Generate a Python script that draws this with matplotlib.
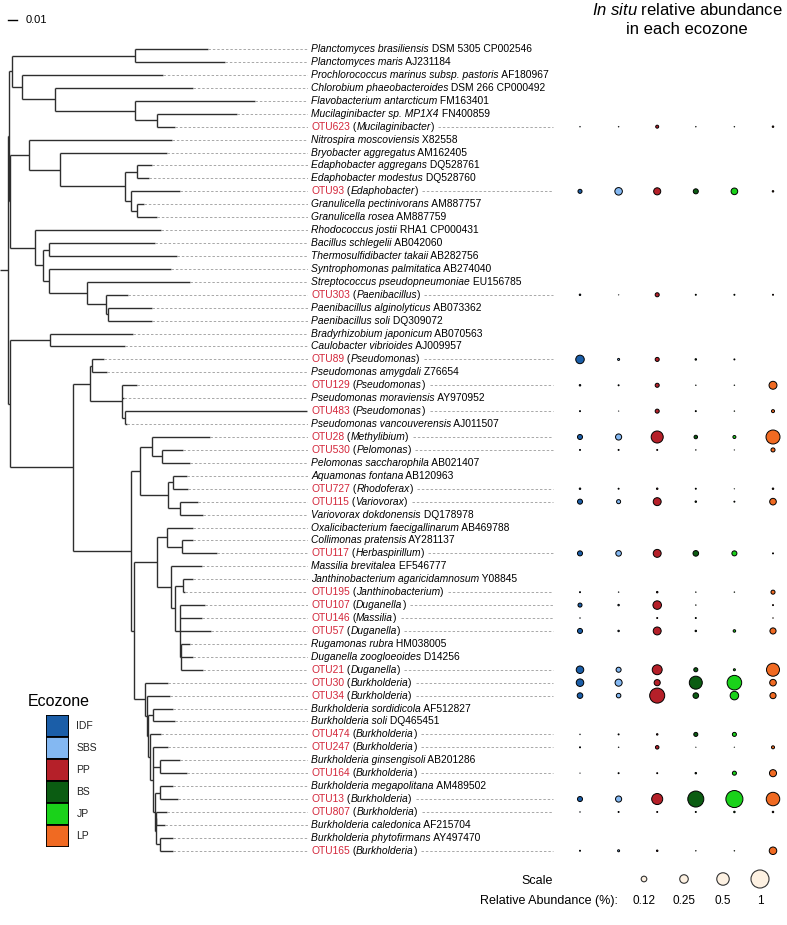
import matplotlib
matplotlib.use("Agg")
import matplotlib.pyplot as plt
import numpy as np

plt.rcParams['font.family'] = ['Liberation Sans', 'DejaVu Sans']
plt.rcParams['mathtext.fontset'] = 'custom'
plt.rcParams['mathtext.it'] = 'Liberation Sans:italic'
plt.rcParams['mathtext.rm'] = 'Liberation Sans'

# --- leaves, top to bottom: (italic/otu part, rest) ---
LEAVES = [
    ("Planctomyces brasiliensis", " DSM 5305 CP002546"),
    ("Planctomyces maris", " AJ231184"),
    ("Prochlorococcus marinus subsp. pastoris", " AF180967"),
    ("Chlorobium phaeobacteroides", " DSM 266 CP000492"),
    ("Flavobacterium antarcticum", " FM163401"),
    ("Mucilaginibacter sp. MP1X4", " FN400859"),
    ("OTU623", "Mucilaginibacter"),
    ("Nitrospira moscoviensis", " X82558"),
    ("Bryobacter aggregatus", " AM162405"),
    ("Edaphobacter aggregans", " DQ528761"),
    ("Edaphobacter modestus", " DQ528760"),
    ("OTU93", "Edaphobacter"),
    ("Granulicella pectinivorans", " AM887757"),
    ("Granulicella rosea", " AM887759"),
    ("Rhodococcus jostii", " RHA1 CP000431"),
    ("Bacillus schlegelii", " AB042060"),
    ("Thermosulfidibacter takaii", " AB282756"),
    ("Syntrophomonas palmitatica", " AB274040"),
    ("Streptococcus pseudopneumoniae", " EU156785"),
    ("OTU303", "Paenibacillus"),
    ("Paenibacillus alginolyticus", " AB073362"),
    ("Paenibacillus soli", " DQ309072"),
    ("Bradyrhizobium japonicum", " AB070563"),
    ("Caulobacter vibrioides", " AJ009957"),
    ("OTU89", "Pseudomonas"),
    ("Pseudomonas amygdali", " Z76654"),
    ("OTU129", "Pseudomonas"),
    ("Pseudomonas moraviensis", " AY970952"),
    ("OTU483", "Pseudomonas"),
    ("Pseudomonas vancouverensis", " AJ011507"),
    ("OTU28", "Methylibium"),
    ("OTU530", "Pelomonas"),
    ("Pelomonas saccharophila", " AB021407"),
    ("Aquamonas fontana", " AB120963"),
    ("OTU727", "Rhodoferax"),
    ("OTU115", "Variovorax"),
    ("Variovorax dokdonensis", " DQ178978"),
    ("Oxalicibacterium faecigallinarum", " AB469788"),
    ("Collimonas pratensis", " AY281137"),
    ("OTU117", "Herbaspirillum"),
    ("Massilia brevitalea", " EF546777"),
    ("Janthinobacterium agaricidamnosum", " Y08845"),
    ("OTU195", "Janthinobacterium"),
    ("OTU107", "Duganella"),
    ("OTU146", "Massilia"),
    ("OTU57", "Duganella"),
    ("Rugamonas rubra", " HM038005"),
    ("Duganella zoogloeoides", " D14256"),
    ("OTU21", "Duganella"),
    ("OTU30", "Burkholderia"),
    ("OTU34", "Burkholderia"),
    ("Burkholderia sordidicola", " AF512827"),
    ("Burkholderia soli", " DQ465451"),
    ("OTU474", "Burkholderia"),
    ("OTU247", "Burkholderia"),
    ("Burkholderia ginsengisoli", " AB201286"),
    ("OTU164", "Burkholderia"),
    ("Burkholderia megapolitana", " AM489502"),
    ("OTU13", "Burkholderia"),
    ("OTU807", "Burkholderia"),
    ("Burkholderia caledonica", " AF215704"),
    ("Burkholderia phytofirmans", " AY497470"),
    ("OTU165", "Burkholderia"),
]

# --- tree: internal node = [depth, children...], leaf = tip depth
# depths in units where 9 units = 0.01 substitutions
TREE = [8,
    [9,
        [12,
            [135, 208, 225],
            [22, 163,
                [55, 193,
                    [135, 255, [157, 237, 175]]]]],
        [10,
            [29, 172,
                [60, 167,
                    [125, [137, 152, 149],
                        [131, 180, [137, 144, 157]]]]],
            [35, 161,
                [43, [49, 155, 177],
                    [49, 171,
                        [87, 190, [106, 128, [108, 152, 152]]]]]]]],
    [10,
        [50, 133, 125],
        [73,
            [90, [92, 104, 107],
                [122, 137, 124, [125, 307, 127]]],
            [131,
                [140,
                    [152, 210, [162, 183, 190]],
                    [168, [173, 187, 188], [180, 198, 203]]],
                [134,
                    [157,
                        [167, 193, [182, 193, 217]],
                        [171, 202,
                            [175, [183, 193, 185],
                                [180, 205, 202, 211, [181, 190, 193, 203]]]]],
                    [145, 168,
                        [147, 170,
                            [148, [153, 173, 175],
                                [150, 161,
                                    [153, 168, [160, 180, 187],
                                        [155, [160, 173, 178],
                                            [156, [156, 167, 165], [160, 173, 173]]]]]]]]]]]]]
SCALE_UNITS = 9
SCALE_LABEL = "0.01"

ZONES = ["IDF", "SBS", "PP", "BS", "JP", "LP"]
ZONE_COLORS = ["#1b5ea8", "#84b8f2", "#b52029", "#0b5c12", "#1ad21a", "#f06a22"]

# in situ relative abundance (%) per OTU: IDF, SBS, PP, BS, JP, LP
ABUND = {
    "OTU623": [0.006, 0.006, 0.044, 0.006, 0.006, 0.017],
    "OTU93":  [0.07, 0.20, 0.18, 0.10, 0.16, 0.017],
    "OTU303": [0.017, 0.004, 0.07, 0.011, 0.011, 0.011],
    "OTU89":  [0.25, 0.025, 0.07, 0.017, 0.011, 0.0],
    "OTU129": [0.017, 0.011, 0.07, 0.006, 0.006, 0.22],
    "OTU483": [0.011, 0.003, 0.07, 0.011, 0.006, 0.044],
    "OTU28":  [0.10, 0.14, 0.47, 0.056, 0.044, 0.62],
    "OTU530": [0.011, 0.011, 0.011, 0.006, 0.003, 0.07],
    "OTU727": [0.017, 0.011, 0.017, 0.011, 0.003, 0.017],
    "OTU115": [0.10, 0.07, 0.22, 0.017, 0.011, 0.16],
    "OTU117": [0.10, 0.12, 0.22, 0.12, 0.10, 0.011],
    "OTU195": [0.011, 0.006, 0.017, 0.006, 0.006, 0.07],
    "OTU107": [0.07, 0.017, 0.25, 0.006, 0.0, 0.011],
    "OTU146": [0.006, 0.0, 0.011, 0.011, 0.0, 0.006],
    "OTU57":  [0.10, 0.017, 0.22, 0.017, 0.034, 0.14],
    "OTU21":  [0.20, 0.10, 0.33, 0.07, 0.025, 0.54],
    "OTU30":  [0.20, 0.18, 0.14, 0.54, 0.67, 0.16],
    "OTU34":  [0.12, 0.084, 0.71, 0.12, 0.25, 0.14],
    "OTU474": [0.006, 0.011, 0.017, 0.07, 0.07, 0.0],
    "OTU247": [0.011, 0.006, 0.056, 0.003, 0.003, 0.044],
    "OTU164": [0.003, 0.011, 0.011, 0.017, 0.07, 0.18],
    "OTU13":  [0.10, 0.14, 0.40, 0.80, 0.90, 0.58],
    "OTU807": [0.006, 0.011, 0.011, 0.011, 0.017, 0.017],
    "OTU165": [0.011, 0.025, 0.017, 0.006, 0.006, 0.20],
}
SCALE_VALUES = [0.12, 0.25, 0.5, 1]
SCALE_TEXT = ["0.12", "0.25", "0.5", "1"]

OTU_RED = "#d3263a"
TREE_COL = "#2e2e2e"
DASH_COL = "#a8a8a8"

# --- layout (pixels of the 787x925 output) ---
W, H = 787, 925
ROW0, ROW_STEP = 49.1, 12.93
TREE_RIGHT = 308
COL0, COL_STEP = 580, 38.6
YLIM = ((H - ROW0) / ROW_STEP, -ROW0 / ROW_STEP)
LABEL_FS = 7.4
EDGE_LW = 0.7


def row_of(px):
    return (px - ROW0) / ROW_STEP


def bubble_size(v):
    # 1% -> ~19 px wide; area proportional to abundance
    d = 19 * 0.72 * np.sqrt(np.asarray(v, float)) - EDGE_LW
    return np.clip(d, 0.25, None) ** 2


fig = plt.figure(figsize=(W / 100, H / 100), dpi=100)

tax = fig.add_axes([0, 0, TREE_RIGHT / W, 1])
tax.set_xlim(0, TREE_RIGHT)
tax.set_ylim(*YLIM)
tax.axis('off')

bax = fig.add_axes([TREE_RIGHT / W, 0, 1 - TREE_RIGHT / W, 1])
bax.set_xlim((TREE_RIGHT - COL0) / COL_STEP, (W - COL0) / COL_STEP)
bax.set_ylim(*YLIM)
bax.axis('off')

# walk the tree
tips, hsegs, vsegs = [], [], []


def walk(node, parent_x):
    if isinstance(node, list):
        x = node[0]
        ys = [walk(k, x) for k in node[1:]]
        y = (ys[0] + ys[-1]) / 2
        vsegs.append((x, ys[0], ys[-1]))
    else:
        x = node
        y = len(tips)
        tips.append(x)
    hsegs.append((parent_x, x, y))
    return y


walk(TREE, 0)
h = np.array(hsegs)
v = np.array(vsegs)
tax.hlines(h[:, 2], h[:, 0], h[:, 1], color=TREE_COL, lw=1.0)
tax.vlines(v[:, 0], v[:, 1], v[:, 2], color=TREE_COL, lw=1.0)
rows = np.arange(len(tips))
tax.hlines(rows, tips, TREE_RIGHT, color=DASH_COL, lw=0.7, linestyles=(0, (2.5, 2)))

# scale bar
sb_row = row_of(20)
tax.plot([8, 8 + SCALE_UNITS], [sb_row, sb_row], color='black', lw=1.0)
tax.text(26, sb_row, SCALE_LABEL, fontsize=8, va='center', ha='left')


def put_label(row, pieces):
    prev = None
    for txt, style, color in pieces:
        kw = dict(fontsize=LABEL_FS, style=style, color=color, ha='left',
                  annotation_clip=False)
        if prev is None:
            t = tax.annotate(txt, xy=(1, row), xycoords=('axes fraction', 'data'),
                             xytext=(2.2, 0), textcoords='offset points',
                             va='center', **kw)
        else:
            t = tax.annotate(txt, xy=(1, 0), xycoords=prev, va='bottom', **kw)
        prev = t
    return prev


otu_ends = {}
for i, (a, b) in enumerate(LEAVES):
    if a.startswith("OTU"):
        last = put_label(i, [(a, 'normal', OTU_RED), (" (", 'normal', 'black'),
                             (b, 'italic', 'black'), (")", 'normal', 'black')])
        otu_ends[a] = (i, last)
    else:
        put_label(i, [(a, 'italic', 'black'), (b, 'normal', 'black')])

# bubbles
for name, vals in ABUND.items():
    i = otu_ends[name][0]
    vals = np.array(vals)
    keep = vals > 0
    xs = np.arange(len(ZONES))[keep]
    bax.scatter(xs, np.full(xs.size, i), s=bubble_size(vals[keep]),
                c=np.array(ZONE_COLORS)[keep], edgecolors='black',
                linewidths=EDGE_LW, zorder=3)

# title
fig.text(687 / W, 1 - 10 / H, r'$\mathit{In\ situ}$ relative abundance',
         ha='center', va='center', fontsize=12)
fig.text(687 / W, 1 - 29.5 / H, 'in each ecozone', ha='center', va='center',
         fontsize=12)

# bubble scale
sc_x = (np.array([644, 684, 723, 760]) - COL0) / COL_STEP
bax.scatter(sc_x, np.full(4, row_of(879)), s=bubble_size(SCALE_VALUES),
            c='#fdf1e2', edgecolors='#333333', linewidths=0.8, zorder=3)
for x, t in zip(sc_x, SCALE_TEXT):
    bax.text(x, row_of(901), t, ha='center', va='center', fontsize=8.5)
bax.text((537 - COL0) / COL_STEP, row_of(881), 'Scale', ha='center',
         va='center', fontsize=9)
bax.text((549 - COL0) / COL_STEP, row_of(901), 'Relative Abundance (%):',
         ha='center', va='center', fontsize=9)

# ecozone legend
lax = fig.add_axes([46 / W, 1 - 847 / H, 23 / W, 132 / H])
lax.barh(np.arange(len(ZONES)), 1, height=1, color=ZONE_COLORS,
         edgecolor='black', linewidth=1.3)
lax.set_xlim(0, 1)
lax.set_ylim(len(ZONES) - 0.5, -0.5)
lax.axis('off')
for k, z in enumerate(ZONES):
    lax.text(1.32, k, z, ha='left', va='center', fontsize=7.5, color='#222222')
fig.text(59 / W, 1 - 702 / H, 'Ecozone', ha='center', va='center', fontsize=11.5)

# dashed continuation after OTU labels
fig.canvas.draw()
inv = bax.transData.inverted()
for name, (i, last) in otu_ends.items():
    x1 = last.get_window_extent().x1
    xs = inv.transform((x1 + 4, 0))[0]
    bax.plot([xs, (553 - COL0) / COL_STEP], [i, i], color=DASH_COL, lw=0.7,
             ls=(0, (2.5, 2)))

fig.savefig('out.png', dpi=100)
